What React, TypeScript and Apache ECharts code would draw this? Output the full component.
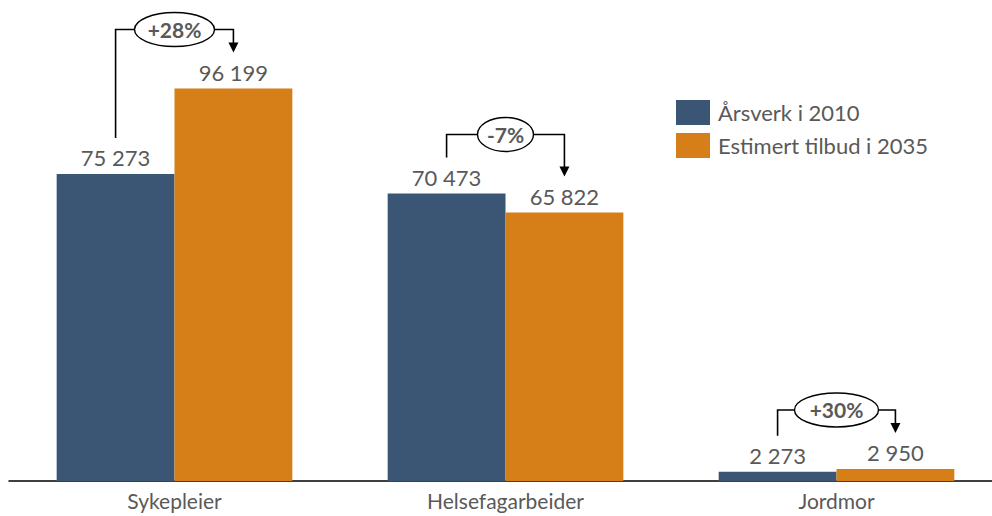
import React, { useEffect, useRef } from "react";
import * as echarts from "echarts";

const categories = ["Sykepleier", "Helsefagarbeider", "Jordmor"];
const series2010 = [75273, 70473, 2273];
const series2035 = [96199, 65822, 2950];
const seriesNames = ["Årsverk i 2010", "Estimert tilbud i 2035"];
const changeLabels = ["+28%", "-7%", "+30%"];

const BLUE = "#3B5675";
const ORANGE = "#D67E17";
const GREY = "#595959";
const FONT = "Lato";

const fmt = (v: number) => String(v).replace(/\B(?=(\d{3})+(?!\d))/g, " ");

export default function App() {
  const ref = useRef<HTMLDivElement>(null);
  useEffect(() => {
    if (!ref.current) return;
    const chart = echarts.init(ref.current, null, { renderer: "svg" });
    const barPct = 0.356;
    chart.setOption({
      animation: false,
      textStyle: { fontFamily: FONT },
      grid: { left: 9, right: 0, top: 73, bottom: 35 },
      legend: {
        orient: "vertical",
        left: 671,
        top: 95,
        itemWidth: 34,
        itemHeight: 25,
        itemGap: 8,
        icon: "rect",
        textStyle: { color: GREY, fontSize: 22, fontFamily: FONT, padding: [0, 0, 0, 3] },
        data: seriesNames,
      },
      xAxis: {
        type: "category",
        data: categories,
        axisLine: { lineStyle: { color: "#000", width: 1.5 } },
        axisTick: { show: false },
        axisLabel: { color: GREY, fontSize: 21, fontFamily: FONT, margin: 9 },
      },
      yAxis: { type: "value", min: 0, max: 100000, show: false, splitLine: { show: false } },
      series: [
        {
          name: seriesNames[0],
          type: "bar",
          data: series2010,
          barWidth: barPct * 100 + "%",
          barGap: "0%",
          itemStyle: { color: BLUE },
          label: { show: true, position: "top", distance: 5, color: GREY, fontSize: 22, fontFamily: FONT, formatter: (p: any) => fmt(p.value) },
        },
        {
          name: seriesNames[1],
          type: "bar",
          data: series2035,
          barWidth: barPct * 100 + "%",
          barGap: "0%",
          itemStyle: { color: ORANGE },
          label: { show: true, position: "top", distance: 5, color: GREY, fontSize: 22, fontFamily: FONT, formatter: (p: any) => fmt(p.value) },
        },
      ],
    });

    const c0 = chart.convertToPixel({ xAxisIndex: 0 }, categories[0]) as number;
    const c1 = chart.convertToPixel({ xAxisIndex: 0 }, categories[1]) as number;
    const band = c1 - c0;
    const half = (band * barPct) / 2;
    const rxs = [40, 28, 42];
    const elements: any[] = [];
    categories.forEach((cat, i) => {
      const cx = chart.convertToPixel({ xAxisIndex: 0 }, cat) as number;
      const yA = chart.convertToPixel({ yAxisIndex: 0 }, series2010[i]) as number;
      const yB = chart.convertToPixel({ yAxisIndex: 0 }, series2035[i]) as number;
      const xA = cx - half;
      const xB = cx + half;
      const level = Math.min(yA, yB) - 59;
      const rx = rxs[i];
      const ry = 17;
      const tip = yB - 36;
      const ls = { stroke: "#000", lineWidth: 1.6, fill: "none" };
      elements.push({
        type: "polyline",
        shape: { points: [[xA, yA - 36], [xA, level], [cx - rx, level]] },
        style: ls,
      });
      elements.push({
        type: "polyline",
        shape: { points: [[cx + rx, level], [xB, level], [xB, tip - 9]] },
        style: ls,
      });
      elements.push({
        type: "polygon",
        shape: { points: [[xB - 5, tip - 10], [xB + 5, tip - 10], [xB, tip]] },
        style: { fill: "#000" },
      });
      elements.push({
        type: "ellipse",
        shape: { cx, cy: level, rx, ry },
        style: { fill: "#fff", stroke: "#000", lineWidth: 1.4 },
      });
      elements.push({
        type: "text",
        x: cx,
        y: level,
        style: {
          text: changeLabels[i],
          fill: GREY,
          font: `bold 21px ${FONT}`,
          align: "center",
          verticalAlign: "middle",
        },
      });
    });
    chart.setOption({ graphic: { elements } });

    return () => chart.dispose();
  }, []);
  return (
    <div style={{ width: 992, height: 516, position: "absolute", left: 0, top: 0, overflow: "hidden" }}>
      <div ref={ref} style={{ width: 1002, height: 516 }} />
    </div>
  );
}
